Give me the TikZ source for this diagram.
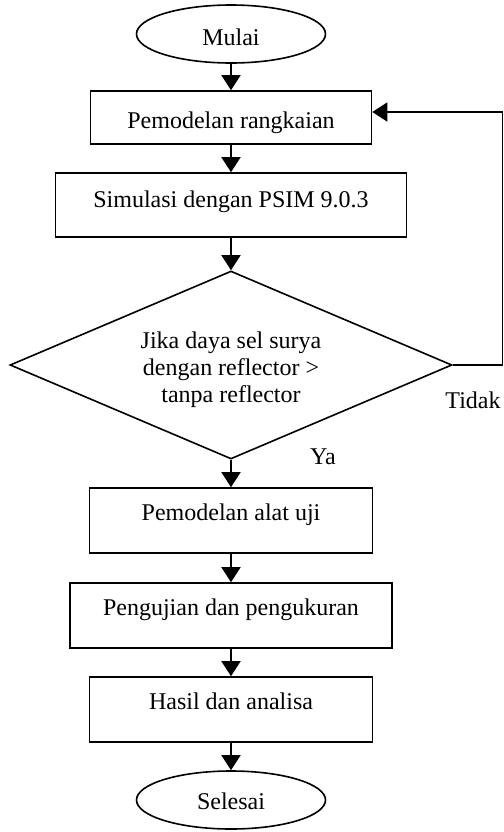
\documentclass[tikz,border=0pt]{standalone}
\usepackage{fontspec}
\setmainfont{Liberation Serif}
\usepackage{tikz}
\usetikzlibrary{arrows.meta,shapes.geometric}

\begin{document}
\begin{tikzpicture}[
  x=0.5pt,
  y=-0.5pt,
  every node/.style={font=\fontsize{12}{13.5}\selectfont},
  terminal/.style={
    draw,
    ellipse,
    line width=0.8pt,
    inner sep=0pt,
    minimum width=94.5pt,
    minimum height=29pt
  },
  process/.style={
    draw,
    rectangle,
    line width=0.8pt,
    inner sep=0pt,
    text height=6pt,
    text depth=6pt
  },
  decision/.style={
    draw,
    diamond,
    aspect=2.35,
    line width=0.8pt,
    inner sep=0pt,
    minimum width=221pt,
    minimum height=94pt
  },
  answer/.style={inner sep=0pt},
  arrow/.style={-{Triangle[length=7.5pt, width=9.5pt]}, line width=0.8pt}
]
\useasboundingbox (0,0) rectangle (504,832);

\node[terminal, text height=11pt, text depth=0pt] (mulai) at (231,34) {Mulai};
\node[process, minimum width=140.5pt, minimum height=26.5pt, text height=10.5pt, text depth=0pt] (model) at (231,117.5) {Pemodelan rangkaian};
\node[process, minimum width=175.5pt, minimum height=32pt, text height=7pt, text depth=5pt] (sim) at (231,205) {Simulasi dengan PSIM 9.0.3};
\node[decision, label={[align=center, inner sep=0pt, yshift=-2.5pt]center:{Jika daya sel surya\\dengan reflector >\\tanpa reflector}}] (cond) at (231,365) {};
\node[process, minimum width=141.5pt, minimum height=32.5pt] (alat) at (231,520.5) {Pemodelan alat uji};
\node[process, minimum width=161pt, minimum height=32.5pt] (uji) at (231,615.5) {Pengujian dan pengukuran};
\node[process, minimum width=141.5pt, minimum height=32.5pt] (hasil) at (231,709.5) {Hasil dan analisa};
\node[terminal, text height=9pt, text depth=0pt] (selesai) at (231,800) {Selesai};

\node[answer] (ya) at (323,457) {Ya};
\node[answer] (tidak) at (473,400) {Tidak};
\coordinate (back) at (502.5,112);

\draw[arrow] (mulai) -- (model);
\draw[arrow] (model) -- (sim);
\draw[arrow] (sim) -- (cond);
\draw[arrow] (cond) -- (alat);
\draw[arrow] (alat) -- (uji);
\draw[arrow] (uji) -- (hasil);
\draw[arrow] (hasil) -- (selesai);
\draw[arrow] (cond.east) -| (back) -- (back -| model.east);
\end{tikzpicture}
\end{document}
